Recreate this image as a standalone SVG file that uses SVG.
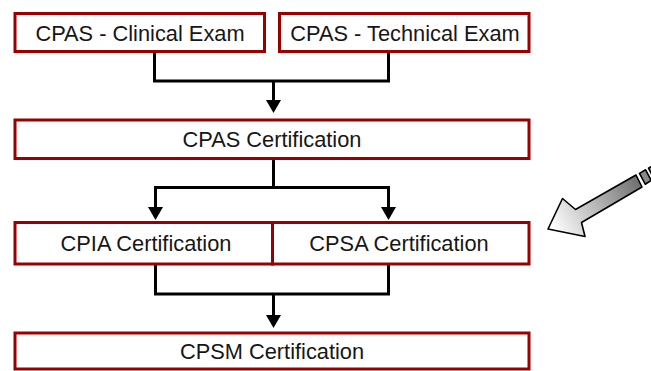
<svg xmlns="http://www.w3.org/2000/svg" width="651" height="371" viewBox="0 0 651 371">
  <style>
    .box { fill: #ffffff; stroke: #9a0000; stroke-width: 3; }
    .lbl { font-family: "Liberation Sans", Arial, sans-serif; font-size: 21.8px; fill: #161616; text-anchor: middle; }
    .wire { fill: none; stroke: #000000; stroke-width: 3; }
    .pointer { stroke: #000000; stroke-width: 1.6; stroke-linejoin: round; }
  </style>
  <defs>
    <marker id="head" markerUnits="userSpaceOnUse" viewBox="0 -8 14 16" refX="0" refY="0" markerWidth="14" markerHeight="16" orient="auto">
      <path d="M0,-7.5 L13,0 L0,7.5 z" fill="#000000"/>
    </marker>
    <linearGradient id="shade" gradientUnits="userSpaceOnUse" x1="645" y1="178" x2="552" y2="228">
      <stop offset="0" stop-color="#666666"/>
      <stop offset="1" stop-color="#ffffff"/>
    </linearGradient>
  </defs>

  <g id="connectors">
    <path class="wire" d="M154.5,52 V81 H388.5 V52"/>
    <path class="wire" d="M273.5,81 V100" marker-end="url(#head)"/>
    <path class="wire" d="M273.5,158 V187.5"/>
    <path class="wire" d="M155.5,187.5 H388.5"/>
    <path class="wire" d="M155.5,186 V207" marker-end="url(#head)"/>
    <path class="wire" d="M388.5,186 V207" marker-end="url(#head)"/>
    <path class="wire" d="M155.5,264 V294 H388.5 V264"/>
    <path class="wire" d="M273.5,294 V315" marker-end="url(#head)"/>
  </g>

  <g id="clinical-exam">
    <rect class="box" x="15" y="13.5" width="249.5" height="38"/>
    <text class="lbl" x="140" y="40.5">CPAS - Clinical Exam</text>
  </g>
  <g id="technical-exam">
    <rect class="box" x="279.5" y="13.5" width="249.5" height="38"/>
    <text class="lbl" x="405" y="40.5">CPAS - Technical Exam</text>
  </g>
  <g id="cpas">
    <rect class="box" x="15" y="120" width="514" height="38.5"/>
    <text class="lbl" x="272" y="147">CPAS Certification</text>
  </g>
  <g id="cpia">
    <rect class="box" x="15" y="222.5" width="257.5" height="41.5"/>
    <text class="lbl" x="146" y="251">CPIA Certification</text>
  </g>
  <g id="cpsa">
    <rect class="box" x="272.5" y="222.5" width="256.5" height="41.5"/>
    <text class="lbl" x="399" y="251">CPSA Certification</text>
  </g>
  <g id="cpsm">
    <rect class="box" x="15" y="333" width="514" height="36"/>
    <text class="lbl" x="272" y="358.5">CPSM Certification</text>
  </g>

  <!-- grey block arrow pointing at the middle row -->
  <g id="pointer">
    <polygon class="pointer" fill="url(#shade)" points="548,229 562.5,198.5 575.5,209.5 636,175 642,187 581.5,222.5 585,236.5"/>
    <polygon class="pointer" fill="#8a8a8a" points="639.5,173.4 645.6,169.8 651.2,180.4 645.2,184.2"/>
    <polygon class="pointer" fill="#999999" points="648.5,168.2 655,164.5 660,175 654,178.6"/>
  </g>
</svg>
